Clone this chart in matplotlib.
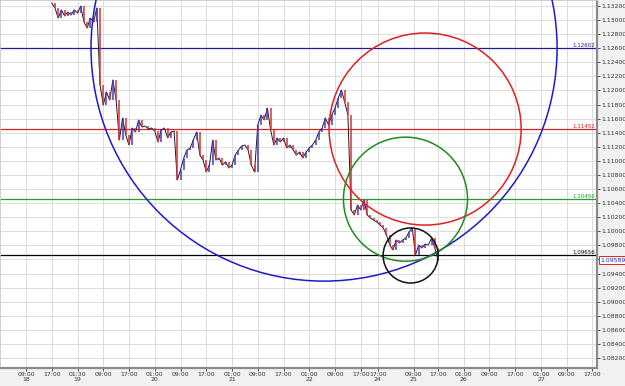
import numpy as np
import matplotlib
matplotlib.use("Agg")
import matplotlib.pyplot as plt
from matplotlib.patches import Ellipse

# hourly closes, 18th 17:00 -> 25th 17:00 (weekend squeezed out)
closes = [
    1.13242, 1.13171, 1.13029, 1.13143, 1.13058, 1.13115, 1.13072, 1.13143,
    1.13100, 1.13200, 1.12972, 1.12887, 1.13029, 1.12972, 1.13171, 1.12078,
    1.11793, 1.11978, 1.11865, 1.12149, 1.11865, 1.11296, 1.11609, 1.11367,
    1.11225, 1.11467, 1.11410, 1.11580, 1.11481, 1.11495, 1.11453, 1.11467,
    1.11424, 1.11268, 1.11438, 1.11467, 1.11325, 1.11410, 1.11424, 1.10728,
    1.10870, 1.11041, 1.11154, 1.11183, 1.11296, 1.11410, 1.11083, 1.11012,
    1.10842, 1.10941, 1.11296, 1.11012, 1.11041, 1.10941, 1.10984, 1.10899,
    1.10941, 1.11083, 1.11154, 1.11211, 1.11225, 1.11154, 1.10941, 1.10842,
    1.11509, 1.11651, 1.11580, 1.11751, 1.11438, 1.11225, 1.11325, 1.11268,
    1.11325, 1.11183, 1.11225, 1.11154, 1.11083, 1.11126, 1.11041, 1.11126,
    1.11183, 1.11225, 1.11296, 1.11410, 1.11467, 1.11609, 1.11509, 1.11651,
    1.11751, 1.11893, 1.12007, 1.11836, 1.11651, 1.10302, 1.10231, 1.10373,
    1.10302, 1.10444, 1.10231, 1.10188, 1.10160, 1.10131, 1.10089, 1.10046,
    1.09947, 1.09805, 1.09734, 1.09876, 1.09833, 1.09876, 1.09904, 1.09989,
    1.10046, 1.09663, 1.09805, 1.09762, 1.09819, 1.09805, 1.09904, 1.09762,
    1.09589,
]
first_hour = 8  # hours after 18th 09:00

levels = [1.12602, 1.11452, 1.10456, 1.09656]
level_colors = ['#1c1ca0', '#e02020', '#22a022', '#000000']
last_price = 1.09589

# circles: centre (hour, price), radius in price units
circ_x = [92.6, 124.0, 117.9, 119.5]
circ_y = [1.12602, 1.11452, 1.10456, 1.09656]
circ_r = [0.03310, 0.01364, 0.00881, 0.00391]
circ_colors = ['#1c1cc8', '#e02020', '#1e8c1e', '#101010']

tick_hours = [0, 8, 16, 24, 32, 40, 48, 56, 64, 72, 80, 88, 96, 104,
              109.3, 120.4, 128, 136, 144, 152, 160, 168, 176]
tick_labels = ['09:00\n18', '17:00', '01:30\n19', '09:00', '17:00', '01:00\n20',
               '09:00', '17:00', '01:00\n21', '09:00', '17:00', '01:00\n22',
               '09:00', '17:00', '17:00\n24', '09:00\n25', '17:00', '01:00\n26',
               '09:00', '17:00', '01:00\n27', '09:00', '17:00']

W, H = 625, 386
fig = plt.figure(figsize=(W / 100, H / 100), dpi=100, facecolor='#f1f1f1')
ax = fig.add_axes([0, 18 / H, 597 / W, 368 / H])
ax.set_facecolor('white')

xmin, xmax = -8.08, 177.4
ymin, ymax = 1.08058, 1.13285
ax.set_xlim(xmin, xmax)
ax.set_ylim(ymin, ymax)

ax.set_yticks(np.arange(1.082, 1.1330, 0.002))
ax.yaxis.tick_right()
ax.yaxis.set_major_formatter(matplotlib.ticker.FormatStrFormatter('%.5f'))
ax.set_xticks(tick_hours)
ax.set_xticklabels(tick_labels, linespacing=1.05)
ax.tick_params(axis='y', labelsize=4.4, colors='#333333', length=2, width=0.6, pad=0.8)
ax.tick_params(axis='x', labelsize=4.4, colors='#333333', length=2, width=0.6, pad=1)
ax.grid(True, color='#dcdcdc', lw=0.7)
ax.set_axisbelow(True)
for side in ['left', 'top']:
    ax.spines[side].set_color('#c8c8c8')
    ax.spines[side].set_linewidth(0.6)
for side in ['right', 'bottom']:
    ax.spines[side].set_color('#8c8c8c')
    ax.spines[side].set_linewidth(1.6)

# horizontal levels with their labels
for lv, c in zip(levels, level_colors):
    ax.axhline(lv, color=c, lw=0.9, zorder=2)
    ax.text(xmax - 0.5, lv + 0.00005, '%.5f' % lv, color=c, fontsize=4,
            ha='right', va='bottom', zorder=5)

# price: connecting line plus up/down bodies
hours = np.arange(len(closes)) + first_hour
closes = np.array(closes)
ax.plot(hours, closes, color='#1a1a33', lw=0.7, zorder=3)
opens = np.r_[closes[0], closes[:-1]]
up = closes >= opens
ax.vlines(hours[up], opens[up], closes[up], color='#4a3ac0', lw=1.1, zorder=4)
ax.vlines(hours[~up], opens[~up], closes[~up], color='#d83030', lw=1.1, zorder=4)

# circles, kept round in pixel space
sx = 597 / (xmax - xmin)
sy = 368 / (ymax - ymin)
for cx, cy, r, c in zip(circ_x, circ_y, circ_r, circ_colors):
    ax.add_patch(Ellipse((cx, cy), 2 * r * sy / sx, 2 * r, fill=False,
                         edgecolor=c, lw=1.1, zorder=5))

# current price box
ax.text(1.006, last_price, '%.5f' % last_price, color='#2020c0', fontsize=4.4,
        ha='left', va='center', clip_on=False, zorder=6,
        transform=ax.get_yaxis_transform(),
        bbox=dict(boxstyle='square,pad=0.2', fc='white', ec='#e02020', lw=0.7))

fig.savefig('out.png', dpi=100, facecolor=fig.get_facecolor())
